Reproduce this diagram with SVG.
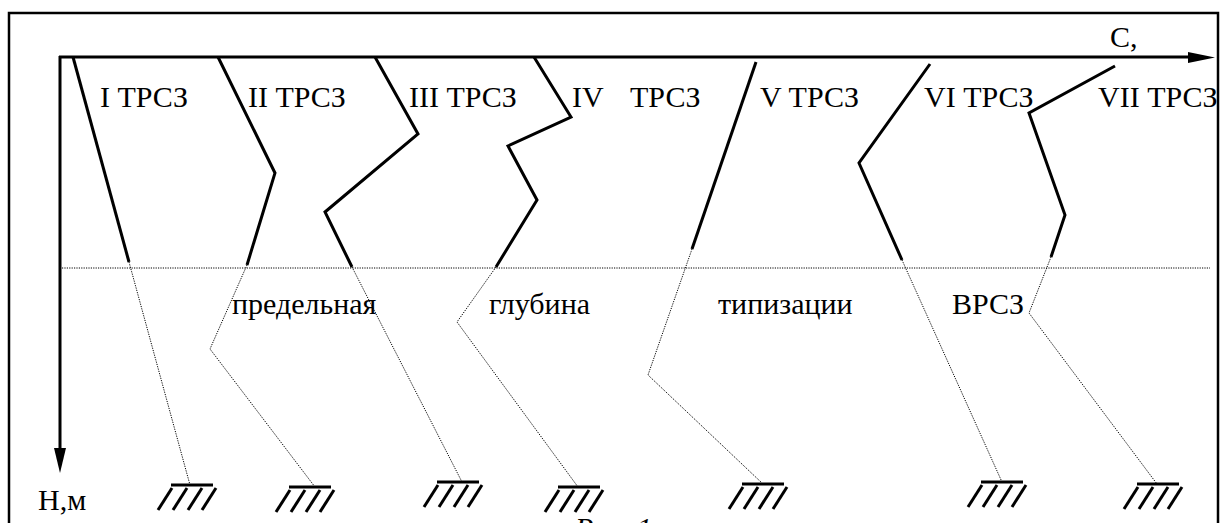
<svg xmlns="http://www.w3.org/2000/svg" width="1221" height="523" viewBox="0 0 1221 523">
<style>
  text { font-family: "Liberation Serif", "Times New Roman", serif; font-size: 30px; fill: #000; }
  .solid { fill: none; stroke: #000; stroke-width: 3; stroke-linejoin: miter; }
  .dot { fill: none; stroke: #000; stroke-width: 1; stroke-dasharray: 1.2 1.2; }
  .axis { fill: none; stroke: #000; stroke-width: 3; }
  .hatch { fill: none; stroke: #000; stroke-width: 3; }
</style>
<defs>
  <g id="ground">
    <line class="hatch" x1="0" y1="0" x2="42" y2="0"/>
    <line class="hatch" x1="-13" y1="25" x2="1" y2="3"/>
    <line class="hatch" x1="2" y1="25" x2="16" y2="3"/>
    <line class="hatch" x1="17" y1="25" x2="31" y2="3"/>
    <line class="hatch" x1="31" y1="25" x2="45" y2="3"/>
  </g>
</defs>
<rect width="1221" height="523" fill="#fff"/>
<rect x="9" y="13" width="1209" height="540" fill="none" stroke="#000" stroke-width="2.5"/>

<g id="axes">
  <line class="axis" x1="59" y1="57" x2="1192" y2="57"/>
  <polygon points="1188,52 1215,57.5 1188,63" fill="#000"/>
  <line class="axis" x1="60" y1="56" x2="60" y2="450"/>
  <polygon points="54,448 60,473 66,448" fill="#000"/>
  <text x="1110" y="47">C,</text>
  <text x="38" y="510">Н,м</text>
</g>

<g id="limit-line">
  <line class="dot" x1="62" y1="268" x2="1210" y2="268"/>
  <text x="232" y="314">предельная</text>
  <text x="489" y="314">глубина</text>
  <text x="718" y="314">типизации</text>
  <text x="952" y="314">ВРСЗ</text>
</g>

<g id="zone1">
  <polyline class="solid" points="73,57 129,262"/>
  <polyline class="dot" points="129,262 190,485"/>
  <use href="#ground" x="171" y="485"/>
  <text x="100" y="107">I ТРСЗ</text>
</g>
<g id="zone2">
  <polyline class="solid" points="218,57 275,173 247,265"/>
  <polyline class="dot" points="247,265 210,349 315,487"/>
  <use href="#ground" x="289" y="487"/>
  <text x="248" y="107">II ТРСЗ</text>
</g>
<g id="zone3">
  <polyline class="solid" points="375,57 418,134 325,212 352,267"/>
  <polyline class="dot" points="352,267 462,482"/>
  <use href="#ground" x="437" y="482"/>
  <text x="409" y="107">III ТРСЗ</text>
</g>
<g id="zone4">
  <polyline class="solid" points="534,57 571,117 508,146 537,200 496,267"/>
  <polyline class="dot" points="496,267 457,322 578,487"/>
  <use href="#ground" x="558" y="487"/>
  <text x="572" y="107">IV<tspan x="630">ТРСЗ</tspan></text>
</g>
<g id="zone5">
  <polyline class="solid" points="756,62 692,249"/>
  <polyline class="dot" points="692,249 648,375 763,484"/>
  <use href="#ground" x="742" y="484"/>
  <text x="760" y="107">V ТРСЗ</text>
</g>
<g id="zone6">
  <polyline class="solid" points="930,64 859,163 902,260"/>
  <polyline class="dot" points="902,260 1002,482"/>
  <use href="#ground" x="981" y="482"/>
  <text x="924" y="107">VI ТРСЗ</text>
</g>
<g id="zone7">
  <polyline class="solid" points="1115,66 1029,113 1065,215 1051,257"/>
  <polyline class="dot" points="1051,257 1029,313 1157,484"/>
  <use href="#ground" x="1137" y="484"/>
  <text x="1098" y="107">VII ТРСЗ</text>
</g>

<g id="caption">
  <text x="575" y="538" font-style="italic">Рис. 1</text>
</g>
</svg>
